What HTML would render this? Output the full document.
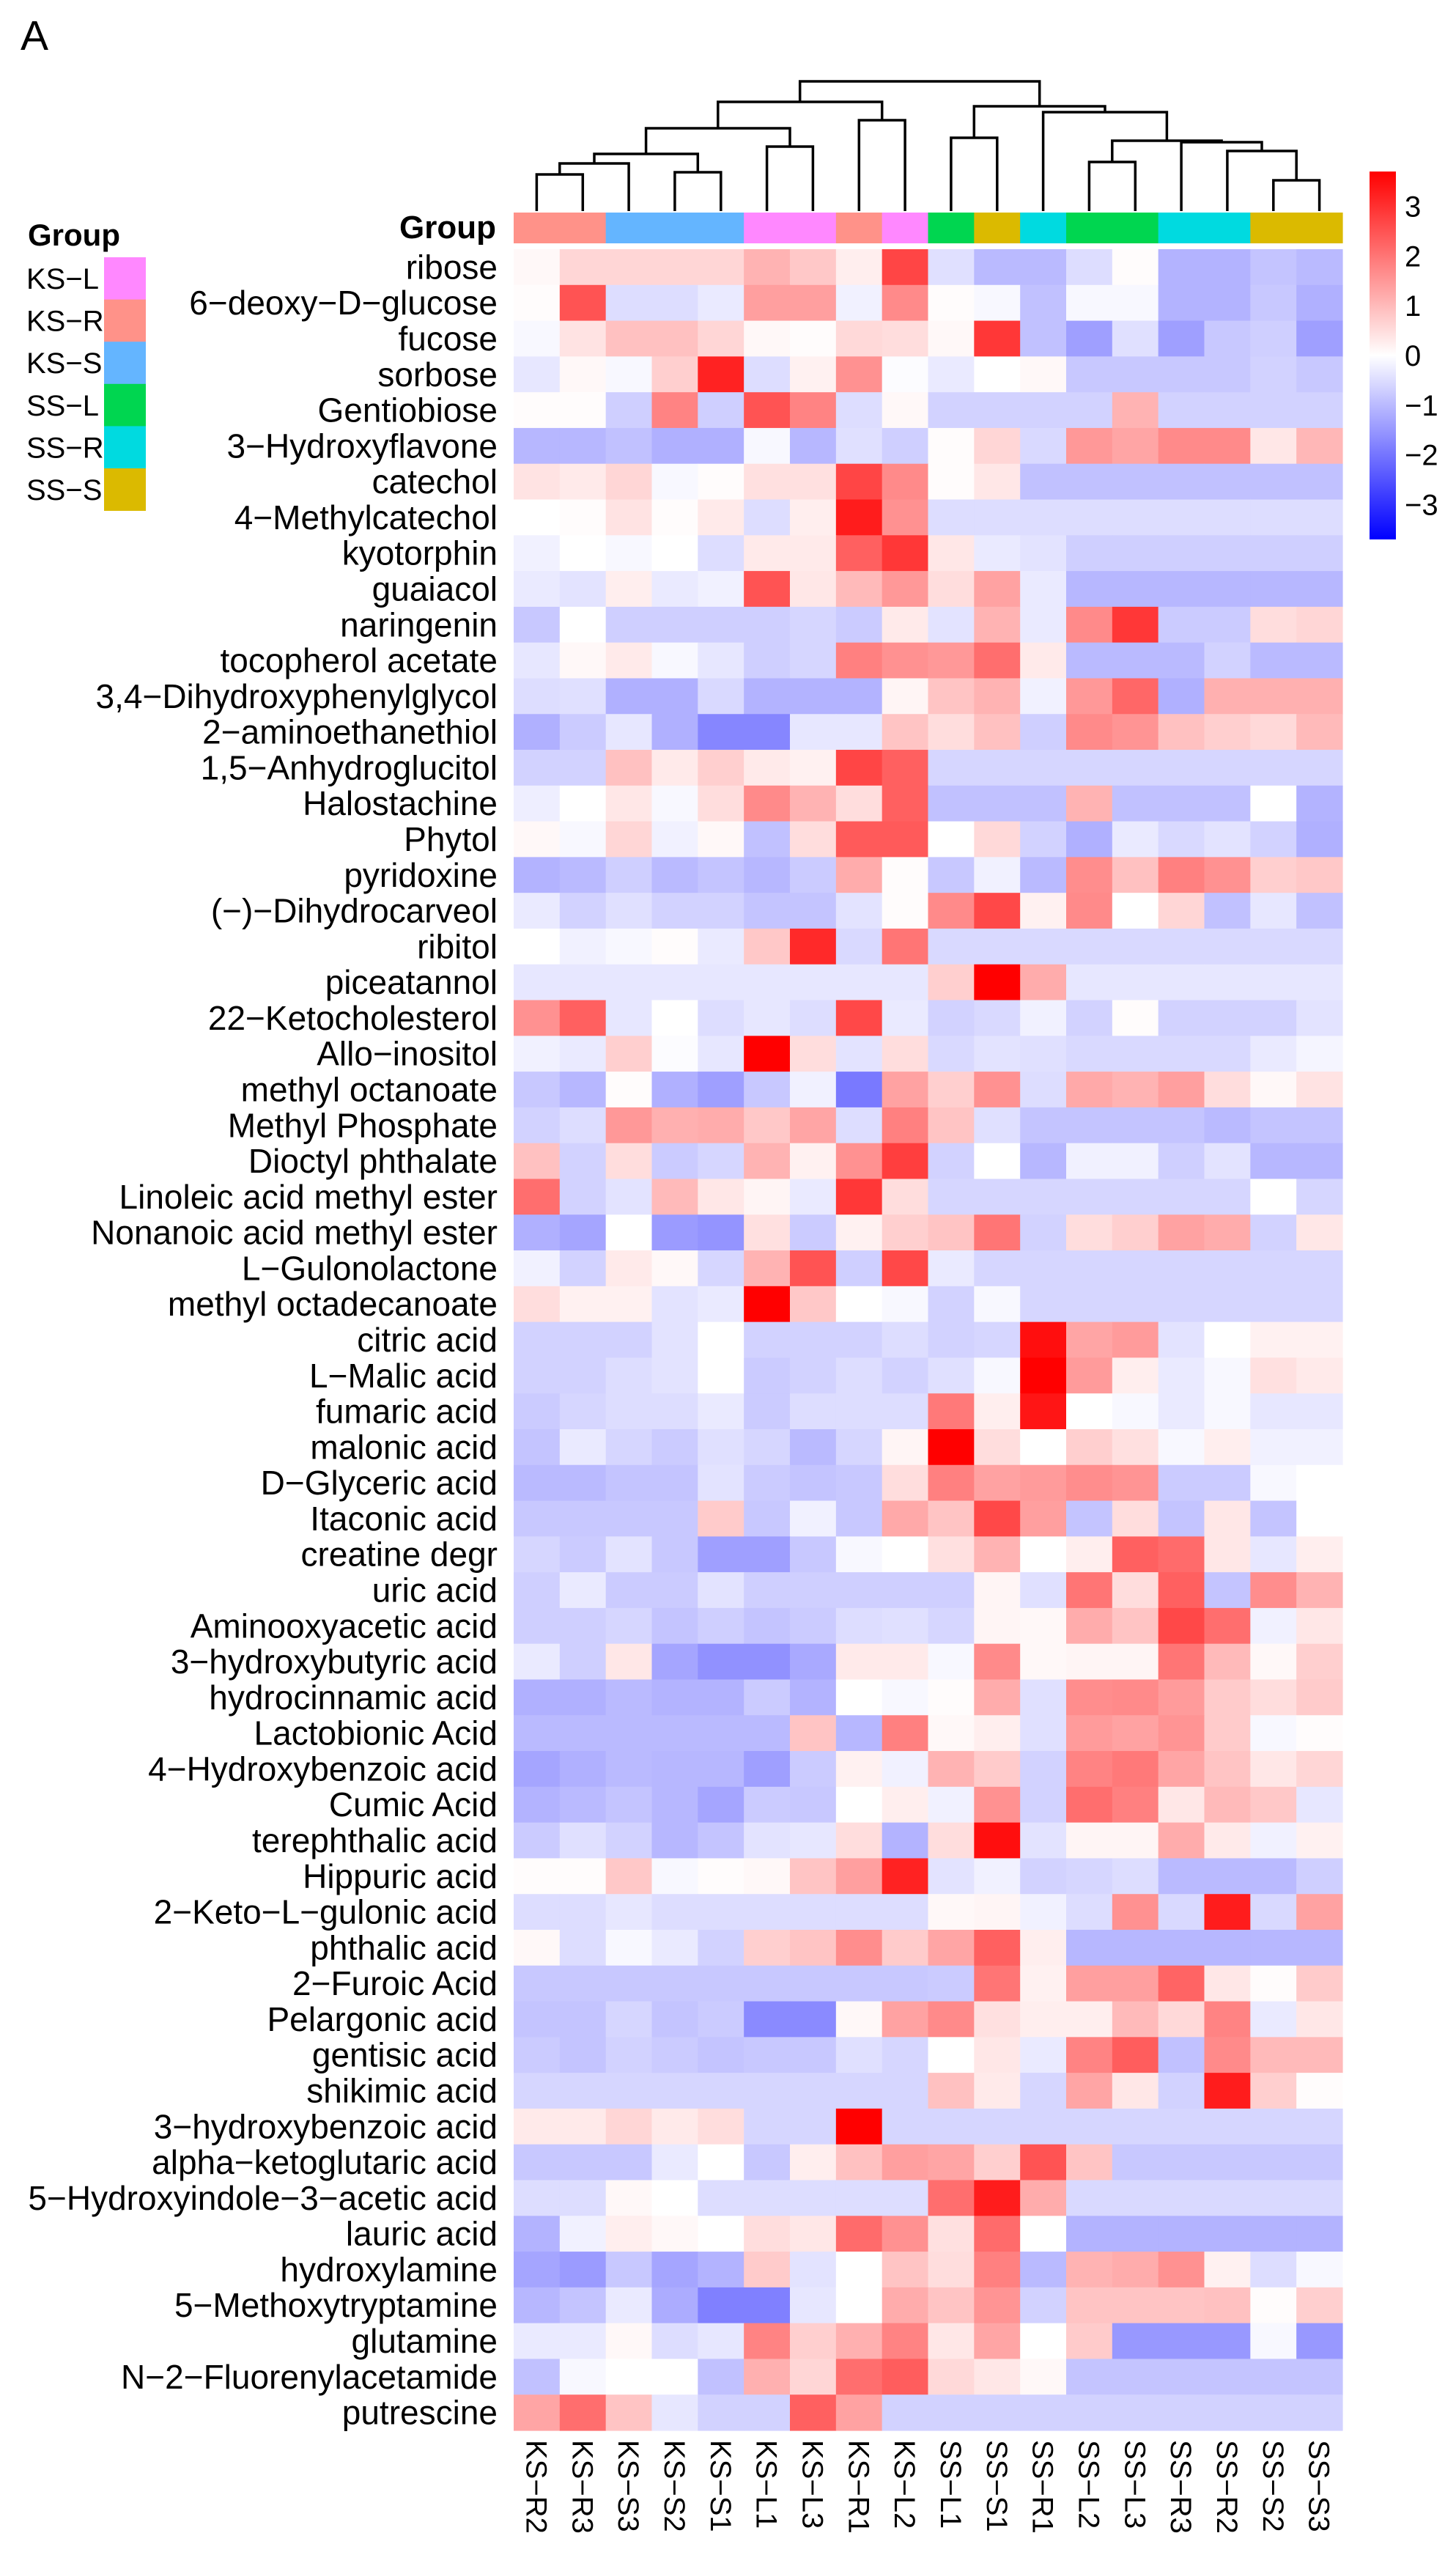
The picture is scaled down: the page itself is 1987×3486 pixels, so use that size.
<!DOCTYPE html>
<html><head><meta charset="utf-8"><style>
html,body{margin:0;padding:0;background:#fff;}
svg{display:block;font-family:"Liberation Sans",Arial,sans-serif;}
</style></head><body>
<svg id="chart" width="1987" height="3486" viewBox="0 0 1987 3486" xmlns="http://www.w3.org/2000/svg">
<defs><linearGradient id="cbar" x1="0" y1="1" x2="0" y2="0">
<stop offset="0" stop-color="#0000ff"/><stop offset="0.5" stop-color="#ffffff"/><stop offset="1" stop-color="#ff0000"/></linearGradient></defs>
<text x="28" y="68" font-size="57">A</text>
<g id="dendro"></g>
<g id="groupbar"></g>
<text x="677" y="325" font-size="44" font-weight="bold" text-anchor="end">Group</text>
<g id="cells"></g>
<g id="rowlabels"></g>
<g id="collabels"></g>
<g id="legend">
<text x="38" y="335" font-size="42" font-weight="bold">Group</text>
</g>
<g id="colorbar">
<rect x="1869" y="234" width="36" height="502" fill="url(#cbar)"/>
</g>
</svg>
<script>
const columns = ["KS-R2","KS-R3","KS-S3","KS-S2","KS-S1","KS-L1","KS-L3","KS-R1","KS-L2","SS-L1","SS-S1","SS-R1","SS-L2","SS-L3","SS-R3","SS-R2","SS-S2","SS-S3"];
const columnGroups = ["KS-R","KS-R","KS-S","KS-S","KS-S","KS-L","KS-L","KS-R","KS-L","SS-L","SS-S","SS-R","SS-L","SS-L","SS-R","SS-R","SS-S","SS-S"];
const groupNames = ["KS-L","KS-R","KS-S","SS-L","SS-R","SS-S"];
const groupColors = ["#ff88ff","#ff9289","#64b5ff","#00d650","#00dae0","#dbba00"];
const rows = ["ribose","6-deoxy-D-glucose","fucose","sorbose","Gentiobiose","3-Hydroxyflavone","catechol","4-Methylcatechol","kyotorphin","guaiacol","naringenin","tocopherol acetate","3,4-Dihydroxyphenylglycol","2-aminoethanethiol","1,5-Anhydroglucitol","Halostachine","Phytol","pyridoxine","(-)-Dihydrocarveol","ribitol","piceatannol","22-Ketocholesterol","Allo-inositol","methyl octanoate","Methyl Phosphate","Dioctyl phthalate","Linoleic acid methyl ester","Nonanoic acid methyl ester","L-Gulonolactone","methyl octadecanoate","citric acid","L-Malic acid","fumaric acid","malonic acid","D-Glyceric acid","Itaconic acid","creatine degr","uric acid","Aminooxyacetic acid","3-hydroxybutyric acid","hydrocinnamic acid","Lactobionic Acid","4-Hydroxybenzoic acid","Cumic Acid","terephthalic acid","Hippuric acid","2-Keto-L-gulonic acid","phthalic acid","2-Furoic Acid","Pelargonic acid","gentisic acid","shikimic acid","3-hydroxybenzoic acid","alpha-ketoglutaric acid","5-Hydroxyindole-3-acetic acid","lauric acid","hydroxylamine","5-Methoxytryptamine","glutamine","N-2-Fluorenylacetamide","putrescine"];
const values = [
[0.1,0.6,0.6,0.6,0.6,1.1,0.8,0.25,2.7,-0.45,-1.0,-1.0,-0.5,0.05,-1.1,-1.1,-0.85,-1.0],
[0.05,2.5,-0.5,-0.5,-0.3,1.4,1.4,-0.2,1.7,0.05,-0.1,-0.9,-0.1,-0.1,-1.1,-1.1,-0.8,-1.15],
[-0.1,0.4,0.9,0.9,0.6,0.1,0.05,0.55,0.5,0.1,2.9,-0.9,-1.4,-0.45,-1.4,-0.8,-0.7,-1.4],
[-0.35,0.1,-0.1,0.7,3.2,-0.5,0.2,1.6,-0.05,-0.3,0,0.1,-0.8,-0.8,-0.8,-0.8,-0.65,-0.8],
[0.05,0.05,-0.7,1.8,-0.7,2.5,1.8,-0.5,0.1,-0.65,-0.65,-0.65,-0.65,1.1,-0.65,-0.65,-0.65,-0.65],
[-1.05,-1.05,-0.9,-1.15,-1.15,-0.1,-1.05,-0.45,-0.7,0.05,0.6,-0.55,1.5,1.3,1.7,1.7,0.35,1.05],
[0.4,0.3,0.6,-0.1,0.05,0.45,0.45,2.7,1.7,0.05,0.35,-0.9,-0.9,-0.9,-0.9,-0.9,-0.9,-0.9],
[0,0.05,0.4,0.05,0.3,-0.5,0.25,3.3,1.6,-0.5,-0.5,-0.5,-0.5,-0.5,-0.5,-0.5,-0.5,-0.5],
[-0.2,0,-0.1,0,-0.5,0.3,0.3,2.3,2.9,0.35,-0.3,-0.4,-0.7,-0.7,-0.7,-0.7,-0.7,-0.7],
[-0.3,-0.4,0.25,-0.3,-0.2,2.5,0.35,1.0,1.5,0.5,1.35,-0.3,-1.05,-1.05,-1.05,-1.05,-1.05,-1.05],
[-0.8,0,-0.7,-0.7,-0.7,-0.7,-0.6,-0.75,0.3,-0.4,1.1,-0.3,1.7,2.9,-0.75,-0.75,0.5,0.6],
[-0.35,0.1,0.3,-0.1,-0.35,-0.7,-0.6,1.85,1.6,1.5,2.1,0.3,-1,-1,-1,-0.65,-1,-1],
[-0.5,-0.45,-1.15,-1.15,-0.55,-1.1,-1.1,-1.1,0.15,0.85,1.1,-0.2,1.5,2.2,-1.15,1.15,1.15,1.15],
[-1.15,-0.75,-0.35,-1.15,-1.75,-1.75,-0.35,-0.35,0.85,0.5,0.9,-0.7,1.7,1.55,0.9,0.7,0.55,1.0],
[-0.65,-0.65,0.9,0.3,0.7,0.3,0.2,2.7,2.3,-0.6,-0.6,-0.6,-0.6,-0.6,-0.6,-0.6,-0.6,-0.6],
[-0.25,0,0.35,-0.1,0.5,1.7,1.1,0.5,2.3,-0.9,-0.9,-0.9,1.1,-0.9,-0.9,-0.9,0,-1.1],
[0.1,-0.1,0.6,-0.2,0.1,-0.9,0.5,2.4,2.4,0,0.55,-0.65,-1.15,-0.3,-0.55,-0.4,-0.65,-1.15],
[-1.1,-1.0,-0.7,-1.0,-0.85,-1.05,-0.75,1.2,0.05,-0.8,-0.2,-1.0,1.65,0.9,1.85,1.6,0.7,0.8],
[-0.3,-0.65,-0.45,-0.65,-0.65,-0.85,-0.85,-0.4,0.05,1.7,2.65,0.2,1.7,0,0.6,-0.9,-0.35,-0.9],
[0,-0.2,-0.1,0.05,-0.3,0.8,3.1,-0.55,2.0,-0.55,-0.55,-0.55,-0.55,-0.55,-0.55,-0.55,-0.55,-0.55],
[-0.35,-0.35,-0.35,-0.35,-0.35,-0.35,-0.35,-0.35,-0.35,0.7,3.7,1.2,-0.35,-0.35,-0.35,-0.35,-0.35,-0.35],
[1.6,2.3,-0.35,0,-0.5,-0.35,-0.5,2.65,-0.3,-0.65,-0.55,-0.2,-0.65,0.05,-0.65,-0.65,-0.65,-0.4],
[-0.2,-0.3,0.7,-0.05,-0.35,3.7,0.5,-0.4,0.5,-0.55,-0.4,-0.45,-0.55,-0.55,-0.55,-0.55,-0.3,-0.15],
[-0.8,-1.05,0.05,-1.15,-1.4,-0.8,-0.2,-1.95,1.35,0.7,1.6,-0.5,1.25,1.1,1.4,0.5,0.1,0.4],
[-0.65,-0.5,1.5,1.15,1.2,0.8,1.3,-0.5,1.85,0.85,-0.45,-0.85,-0.85,-0.85,-0.85,-1.0,-0.85,-0.85],
[0.9,-0.65,0.5,-0.75,-0.6,1.1,0.2,1.6,2.8,-0.65,0,-1.05,-0.2,-0.2,-0.7,-0.4,-1.05,-1.05],
[2.1,-0.65,-0.4,1.0,0.35,0.15,-0.3,2.9,0.5,-0.6,-0.6,-0.6,-0.6,-0.6,-0.6,-0.6,0,-0.6],
[-1.15,-1.3,0,-1.45,-1.55,0.45,-0.75,0.2,0.7,0.85,2.0,-0.65,0.5,0.7,1.35,1.2,-0.65,0.35],
[-0.2,-0.65,0.3,0.1,-0.6,1.1,2.5,-0.7,2.65,-0.3,-0.6,-0.6,-0.6,-0.6,-0.6,-0.6,-0.6,-0.6],
[0.5,0.2,0.2,-0.4,-0.3,3.7,0.8,0,-0.1,-0.65,-0.1,-0.6,-0.6,-0.6,-0.6,-0.6,-0.6,-0.6],
[-0.65,-0.65,-0.65,-0.4,0,-0.65,-0.65,-0.65,-0.5,-0.65,-0.6,3.5,1.3,1.45,-0.4,0,0.2,0.2],
[-0.65,-0.65,-0.5,-0.4,0,-0.75,-0.65,-0.5,-0.65,-0.45,-0.1,3.7,1.45,0.25,-0.3,-0.1,0.45,0.3],
[-0.75,-0.6,-0.5,-0.5,-0.3,-0.75,-0.5,-0.5,-0.5,1.95,0.25,3.4,0,-0.1,-0.3,-0.1,-0.35,-0.35],
[-0.85,-0.3,-0.6,-0.75,-0.45,-0.6,-1.0,-0.6,0.15,3.7,0.5,0,0.7,0.45,-0.1,0.25,-0.2,-0.2],
[-1,-1,-0.85,-0.85,-0.4,-0.75,-0.85,-0.8,0.5,1.85,1.35,1.45,1.65,1.55,-0.75,-0.75,-0.1,0],
[-0.8,-0.8,-0.8,-0.8,0.75,-0.8,-0.2,-0.8,1.25,0.85,2.65,1.4,-0.85,0.5,-0.85,0.35,-0.85,0],
[-0.6,-0.75,-0.4,-0.8,-1.4,-1.4,-0.8,-0.1,0,0.45,1.1,0,0.25,2.3,2.15,0.35,-0.35,0.25],
[-0.7,-0.3,-0.75,-0.75,-0.4,-0.7,-0.7,-0.7,-0.7,-0.7,0.15,-0.45,2.0,0.5,2.3,-0.85,1.65,1.1],
[-0.7,-0.7,-0.6,-0.85,-0.7,-0.85,-0.75,-0.5,-0.45,-0.6,0.15,0.1,1.2,0.85,2.65,2.1,-0.2,0.35],
[-0.3,-0.7,0.35,-1.3,-1.6,-1.6,-1.25,0.3,0.3,-0.1,1.7,0.1,0.15,0.15,2.0,1.0,0.1,0.7],
[-1.15,-1.15,-1.0,-1.1,-1.1,-0.75,-1.1,0,-0.1,0.05,1.2,-0.45,1.65,1.7,1.45,0.75,0.5,0.75],
[-1,-1,-1,-1,-1,-1,0.85,-1.05,1.85,0.1,0.25,-0.45,1.45,1.35,1.55,0.75,-0.1,0.05],
[-1.3,-1.15,-1.0,-1.05,-1.05,-1.4,-0.75,0.2,-0.2,1.1,0.75,-0.65,1.8,1.95,1.3,0.85,0.35,0.6],
[-1.1,-1.0,-0.85,-1.05,-1.3,-0.75,-0.8,0,0.25,-0.2,1.6,-0.65,2.1,1.85,0.35,1.0,0.8,-0.35],
[-0.75,-0.45,-0.65,-1.05,-0.85,-0.4,-0.35,0.5,-1.1,0.5,3.5,-0.4,0.15,0.15,1.2,0.3,-0.2,0.2],
[0.05,0.05,0.8,-0.1,0.05,0.1,0.85,1.4,3.2,-0.4,-0.2,-0.65,-0.6,-0.5,-1,-1,-1,-0.7],
[-0.5,-0.5,-0.35,-0.5,-0.5,-0.5,-0.5,-0.5,-0.5,0.1,0.15,-0.2,-0.5,1.6,-0.55,3.3,-0.55,1.35],
[0.1,-0.5,-0.1,-0.3,-0.65,0.7,0.85,1.65,0.75,1.3,2.3,0.25,-1.05,-1.05,-1.05,-1.05,-1.05,-1.05],
[-0.8,-0.8,-0.8,-0.8,-0.8,-0.8,-0.8,-0.8,-0.8,-0.75,2.0,0.2,1.4,1.4,2.25,0.35,0.05,0.75],
[-0.85,-0.85,-0.6,-0.85,-0.75,-1.7,-1.7,0.1,1.35,1.7,0.45,0.25,0.25,1.0,0.55,1.8,-0.3,0.35],
[-0.75,-0.85,-0.65,-0.75,-0.85,-0.8,-0.8,-0.45,-0.6,0,0.35,-0.3,1.8,2.35,-0.9,1.7,1.0,1.0],
[-0.6,-0.6,-0.6,-0.6,-0.6,-0.6,-0.6,-0.6,-0.6,0.9,0.3,-0.6,1.3,0.35,-0.65,3.3,0.7,0.05],
[0.3,0.3,0.6,0.3,0.5,-0.6,-0.6,3.7,-0.6,-0.6,-0.6,-0.6,-0.6,-0.6,-0.6,-0.6,-0.6,-0.6],
[-0.8,-0.8,-0.8,-0.3,0,-0.8,0.25,0.9,1.4,1.3,0.7,2.5,0.85,-0.8,-0.8,-0.8,-0.8,-0.8],
[-0.5,-0.5,0.1,0,-0.5,-0.5,-0.5,-0.5,-0.5,2.1,3.3,1.2,-0.55,-0.55,-0.55,-0.55,-0.55,-0.55],
[-1.1,-0.2,0.25,0.1,0,0.5,0.35,2.15,1.6,0.45,2.15,0,-1.1,-1.1,-1.1,-1.1,-1.1,-1.1],
[-1.3,-1.45,-0.8,-1.3,-1.1,0.75,-0.4,0,0.85,0.5,1.85,-1.0,1.1,1.2,1.6,0.2,-0.5,-0.1],
[-1.05,-0.85,-0.3,-1.2,-1.85,-1.85,-0.35,0,1.2,0.85,1.55,-0.65,0.85,0.85,0.85,0.9,0.05,0.7],
[-0.3,-0.3,0.1,-0.5,-0.35,1.8,0.7,1.15,1.8,0.35,1.3,0,0.75,-1.5,-1.5,-1.5,-0.1,-1.5],
[-0.9,-0.1,0,0,-0.9,1.15,0.6,2.1,2.35,0.55,0.35,0.1,-0.85,-0.85,-0.85,-0.85,-0.85,-0.85],
[1.3,2.1,0.85,-0.35,-0.65,-0.65,2.3,1.35,-0.65,-0.65,-0.65,-0.65,-0.65,-0.65,-0.65,-0.65,-0.65,-0.65]
];
// dendrogram merges: [left, right, height]; leaves "L#", merges "M#"
const merges = [
["L0","L1",50],["M0","L2",65],["L3","L4",53],["M1","M2",78],["L5","L6",88],["M3","M4",113],
["L7","L8",124],["M5","M6",149],["L9","L10",100],["L12","L13",67],["L16","L17",42],["L15","M10",82],
["L14","M11",94],["M9","M12",96],["L11","M13",135],["M8","M14",143],["M7","M15",177]
];
const colorTicks = [3,2,1,0,-1,-2,-3];
const scaleMax = 3.7;

const NS = "http://www.w3.org/2000/svg";
const X0 = 701, X1 = 1832, Y0 = 340, Y1 = 3316;
const cw = (X1 - X0) / columns.length, rh = (Y1 - Y0) / rows.length;
const xCol = i => X0 + i * cw;
const yRow = j => Y0 + j * rh;
const dendroBase = 288;
const yH = h => dendroBase - h;
const cbTop = 234, cbBot = 736;
const yCb = v => (cbTop + cbBot) / 2 - v / scaleMax * (cbBot - cbTop) / 2;
function colorOf(v){
  let t = Math.max(-1, Math.min(1, v / scaleMax));
  let r, g, b;
  if (t >= 0){ r = 255; g = b = Math.round(255 * (1 - t)); }
  else { b = 255; r = g = Math.round(255 * (1 + t)); }
  return `rgb(${r},${g},${b})`;
}
function mk(tag, attrs, parent){
  const e = document.createElementNS(NS, tag);
  for (const k in attrs) e.setAttribute(k, attrs[k]);
  parent.appendChild(e); return e;
}
const minus = s => s.replace(/-/g, "\u2212");

// cells
const gc = document.getElementById("cells");
values.forEach((row, j) => row.forEach((v, i) => {
  const r = mk("rect", {x: xCol(i).toFixed(2), y: yRow(j).toFixed(2), width: (cw + 0.6).toFixed(2), height: (rh + 0.6).toFixed(2), fill: colorOf(v)}, gc);
  
  
}));
// row labels
const gr = document.getElementById("rowlabels");
rows.forEach((name, j) => {
  const t = mk("text", {x: 679, y: (yRow(j) + rh / 2 + 16).toFixed(1), "font-size": 46, "text-anchor": "end"}, gr);
  t.textContent = minus(name);
  
  
});
// column labels
const gl = document.getElementById("collabels");
columns.forEach((name, i) => {
  const cx = xCol(i) + cw / 2;
  const t = mk("text", {x: 0, y: 0, dy: "0.35em", "font-size": 40, transform: `translate(${cx.toFixed(1)},3329) rotate(90)`}, gl);
  t.textContent = minus(name);
  
  
});
// group bar
const gg = document.getElementById("groupbar");
columnGroups.forEach((g, i) => {
  const r = mk("rect", {x: xCol(i).toFixed(2), y: 290, width: (cw + 0.6).toFixed(2), height: 42, fill: groupColors[groupNames.indexOf(g)]}, gg);
  
  
});
// legend
const lg = document.getElementById("legend");
groupNames.forEach((g, k) => {
  const y = 351 + k * 57.6;
  const r = mk("rect", {x: 142, y: y, width: 57, height: 58, fill: groupColors[k]}, lg);
  
  
  const t = mk("text", {x: 36, y: y + 43, "font-size": 40}, lg);
  t.textContent = minus(g);
  
  
});
// color bar ticks
const cb = document.getElementById("colorbar");
colorTicks.forEach(v => {
  const t = mk("text", {x: 1917, y: (yCb(v) + 14).toFixed(1), "font-size": 40}, cb);
  t.textContent = v < 0 ? "\u2212" + Math.abs(v) : String(v);
  
  
});
// dendrogram
const gd = document.getElementById("dendro");
const nodes = {};
columns.forEach((c, i) => { nodes["L" + i] = {x: xCol(i) + cw / 2, h: 0}; });
merges.forEach((m, k) => {
  const a = nodes[m[0]], b = nodes[m[1]], h = m[2];
  const d = `M${a.x.toFixed(1)},${yH(a.h)}V${yH(h)}H${b.x.toFixed(1)}V${yH(b.h)}`;
  const p = mk("path", {d: d, fill: "none", stroke: "#000", "stroke-width": 3.5}, gd);
  
  
  nodes["M" + k] = {x: (a.x + b.x) / 2, h: h};
});
</script>
</body></html>
